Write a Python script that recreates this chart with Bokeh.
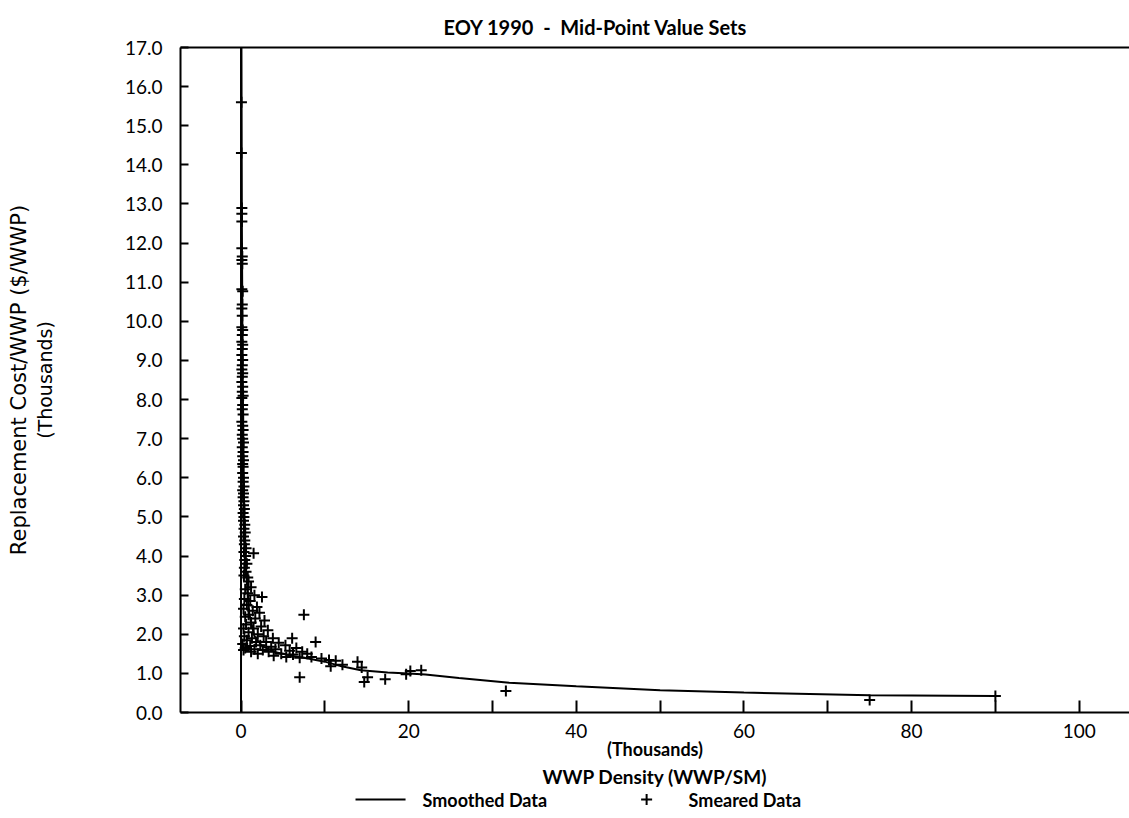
from bokeh.plotting import figure
from bokeh.layouts import column
from bokeh.models import Range1d, FixedTicker, LinearAxis, Span, Title
from bokeh.core.properties import value
from bokeh.embed import file_html
from bokeh.resources import INLINE

# ---------------- data ----------------
title_text = "EOY 1990 \u00a0-\u00a0 Mid-Point Value Sets"
y_label_1 = "Replacement Cost/WWP ($/WWP)"
y_label_2 = "(Thousands)"
x_label_1 = "(Thousands)"
x_label_2 = "WWP Density (WWP/SM)"
legend_smoothed = "Smoothed Data"
legend_smeared = "Smeared Data"

x_ticks = [0, 10, 20, 30, 40, 50, 60, 70, 80, 90, 100]
x_tick_labels = ["0", "", "20", "", "40", "", "60", "", "80", "", "100"]
y_ticks = list(range(0, 18))
y_tick_labels = ["0.0", "1.0", "2.0", "3.0", "4.0", "5.0", "6.0", "7.0", "8.0",
                 "9.0", "10.0", "11.0", "12.0", "13.0", "14.0", "15.0", "16.0", "17.0"]

# Smoothed data (thousands)
smooth_x = [0.05, 0.1, 0.2, 0.35, 0.6, 1.0, 1.6, 2.5, 4.0, 6.0, 8.0, 10.0, 12.0,
            14.3, 17.5, 20.0, 22.0, 26.0, 32.0, 40.0, 50.0, 60.0, 75.0, 90.0]
smooth_y = [17.0, 12.5, 8.5, 5.5, 3.6, 2.5, 1.95, 1.7, 1.55, 1.45, 1.38, 1.3, 1.18,
            1.08, 1.02, 1.0, 0.97, 0.88, 0.76, 0.67, 0.57, 0.51, 0.44, 0.42]

# Smeared data: column hugging x ~ 0
column_x = [0.05, 0.05, 0.1, 0.1, 0.1, 0.1, 0.15, 0.1, 0.15, 0.1, 0.2, 0.15, 0.1, 0.15,
            0.1, 0.2, 0.15, 0.1, 0.2, 0.15, 0.1, 0.2, 0.15, 0.1, 0.2, 0.15, 0.1, 0.2,
            0.15, 0.25, 0.1, 0.2, 0.15, 0.25, 0.1, 0.2, 0.25, 0.15, 0.2, 0.3, 0.15, 0.25,
            0.2, 0.3, 0.2, 0.25, 0.2, 0.3, 0.25, 0.35, 0.2, 0.3, 0.25, 0.35, 0.3, 0.4,
            0.25, 0.35, 0.3, 0.45, 0.35, 0.5, 0.3, 0.45, 0.4, 0.6, 0.35, 0.55, 0.45, 0.7,
            0.4, 0.6, 0.35, 0.8]
column_y = [15.6, 14.3, 12.9, 12.75, 12.55, 11.87, 11.66, 11.57, 11.47, 10.82, 10.77,
            10.43, 10.33, 10.14, 9.85, 9.78, 9.65, 9.48, 9.40, 9.29, 9.14, 9.01, 8.88,
            8.77, 8.67, 8.58, 8.45, 8.33, 8.2, 8.1, 8.04, 7.86, 7.75, 7.62, 7.43, 7.33,
            7.22, 7.1, 7.0, 6.9, 6.78, 6.66, 6.55, 6.45, 6.35, 6.28, 6.12, 6.0, 5.9,
            5.78, 5.68, 5.6, 5.5, 5.4, 5.3, 5.2, 5.1, 5.0, 4.9, 4.8, 4.7, 4.6, 4.5,
            4.4, 4.3, 4.2, 4.1, 4.0, 3.9, 3.8, 3.7, 3.6, 3.5, 3.45]

# Smeared data: the spreading cloud and outliers
cloud_x = [0.9, 1.2, 0.5, 0.8, 1.6, 2.5, 0.4, 1.1, 0.7, 1.9, 0.3, 1.4, 2.2, 0.9, 0.5,
           1.7, 2.8, 1.2, 0.6, 2.4, 0.3, 1.5, 3.2, 0.9, 2.0, 0.4, 2.7, 1.3, 3.8, 0.7,
           6.1, 8.9, 1.8, 3.0, 4.5, 0.2, 2.3, 5.3, 1.1, 3.6, 0.5, 1.6, 4.1, 6.6, 2.6,
           5.8, 0.3, 1.2, 3.3, 7.3, 4.8, 2.0, 6.2, 7.9, 3.9, 5.4, 8.4, 7.0, 9.6, 10.5,
           11.3, 10.7, 12.1, 13.9, 14.4, 15.1, 14.7, 17.2, 19.7, 20.2, 21.5, 7.5, 7.0,
           1.5, 31.6, 75.0, 90.0]
cloud_y = [3.35, 3.2, 3.15, 3.05, 3.0, 2.95, 2.9, 2.85, 2.75, 2.7, 2.65, 2.6, 2.55, 2.5,
           2.45, 2.4, 2.35, 2.3, 2.25, 2.2, 2.15, 2.15, 2.1, 2.05, 2.0, 1.95, 1.95, 1.9,
           1.9, 1.85, 1.9, 1.8, 1.8, 1.8, 1.78, 1.75, 1.72, 1.72, 1.7, 1.68, 1.65, 1.62,
           1.62, 1.65, 1.6, 1.58, 1.6, 1.55, 1.55, 1.55, 1.5, 1.5, 1.48, 1.5, 1.45, 1.42,
           1.42, 1.4, 1.38, 1.34, 1.32, 1.18, 1.22, 1.3, 1.15, 0.9, 0.78, 0.85, 0.98,
           1.06, 1.08, 2.5, 0.9, 4.07, 0.55, 0.32, 0.42]

smeared_x = column_x + cloud_x
smeared_y = column_y + cloud_y

# ---------------- main figure ----------------
p = figure(frame_width=949, frame_height=665, output_backend="svg",
           toolbar_location=None,
           x_range=Range1d(-7.22, 106.0), y_range=Range1d(0, 17),
           min_border_left=180, min_border_right=0, min_border_top=47,
           min_border_bottom=60)
p.grid.visible = False
p.outline_line_color = None
p.background_fill_color = "white"
p.border_fill_color = "white"

TICK_FONT = "Lato"
BOLD_FONT = "Lato"

# title
p.title.text = title_text
p.title.align = "left"
p.title.offset = 263
p.title.text_font = BOLD_FONT
p.title.text_font_style = "bold"
p.title.text_font_size = "20px"
p.title.text_color = "black"
p.title.standoff = 18

# bottom axis
xa = p.xaxis[0]
xa.ticker = FixedTicker(ticks=x_ticks)
xa.major_label_overrides = {t: l for t, l in zip(x_ticks, x_tick_labels)}
xa.major_tick_in = 12
xa.major_tick_out = 0
xa.minor_tick_line_color = None
xa.axis_line_width = 2
xa.major_tick_line_width = 2
xa.major_label_text_font = TICK_FONT
xa.major_label_text_font_size = "19px"
xa.major_label_text_color = "black"
xa.major_label_standoff = 11
xa.axis_label = x_label_1
xa.axis_label_text_font = BOLD_FONT
xa.axis_label_text_font_style = "bold"
xa.axis_label_text_font_size = "18px"
xa.axis_label_text_color = "black"
xa.axis_label_standoff = -3

# left axis
ya = p.yaxis[0]
ya.ticker = FixedTicker(ticks=y_ticks)
ya.major_label_overrides = {t: l for t, l in zip(y_ticks, y_tick_labels)}
ya.major_tick_in = 8
ya.major_tick_out = 0
ya.minor_tick_line_color = None
ya.axis_line_width = 2
ya.major_tick_line_width = 2
ya.major_label_text_font = TICK_FONT
ya.major_label_text_font_size = "19px"
ya.major_label_text_color = "black"
ya.major_label_standoff = 18
ya.axis_label = y_label_2
ya.axis_label_text_font = "DejaVu Sans"
ya.axis_label_text_font_style = "normal"
ya.axis_label_text_font_size = "19px"
ya.axis_label_text_color = "black"
ya.axis_label_standoff = 66

p.add_layout(Title(text=y_label_1, align="center", offset=-8,
                   text_font="DejaVu Sans", text_font_style="normal",
                   text_font_size="21px", text_color="black", standoff=0), "left")

# top frame line
top_axis = LinearAxis(ticker=FixedTicker(ticks=[]), axis_line_width=2,
                      major_label_text_font_size="0px", major_tick_line_color=None,
                      major_tick_out=0, major_tick_in=0, major_label_standoff=0,
                      minor_tick_line_color=None)
p.add_layout(top_axis, "above")

# zero line
p.add_layout(Span(location=0, dimension="height", line_color="black", line_width=2))

p.line(smooth_x, smooth_y, line_color="black", line_width=2)
p.scatter(smeared_x, smeared_y, marker="cross", size=11,
          line_color="black", line_width=2)

# second x-axis title line
p.add_layout(Title(text=x_label_2, align="center", offset=-32, text_font=BOLD_FONT,
                   text_font_style="bold", text_font_size="19px",
                   text_color="black", standoff=0), "below")

# ---------------- legend strip, aligned with the main frame ----------------
leg = figure(frame_width=949, frame_height=26, output_backend="svg",
             toolbar_location=None, x_range=p.x_range, y_range=Range1d(0, 26),
             x_axis_location=None, y_axis_location=None,
             min_border_left=180, min_border_right=0,
             min_border_top=0, min_border_bottom=0)
leg.grid.visible = False
leg.outline_line_color = None
leg.background_fill_color = "white"
leg.border_fill_color = "white"

leg.line([13.66, 19.63], [14, 14], line_color="black", line_width=2)
leg.scatter([48.39], [14], marker="cross", size=11, line_color="black", line_width=2)
leg.text([21.66], [14], text=[legend_smoothed], text_baseline="middle",
         text_align="left", text_font=value(BOLD_FONT), text_font_style="bold",
         text_font_size="18px", text_color="black")
leg.text([53.40], [14], text=[legend_smeared], text_baseline="middle",
         text_align="left", text_font=value(BOLD_FONT), text_font_style="bold",
         text_font_size="18px", text_color="black")

layout = column(p, leg, spacing=0)
open("out.html", "w").write(file_html(layout, INLINE))
